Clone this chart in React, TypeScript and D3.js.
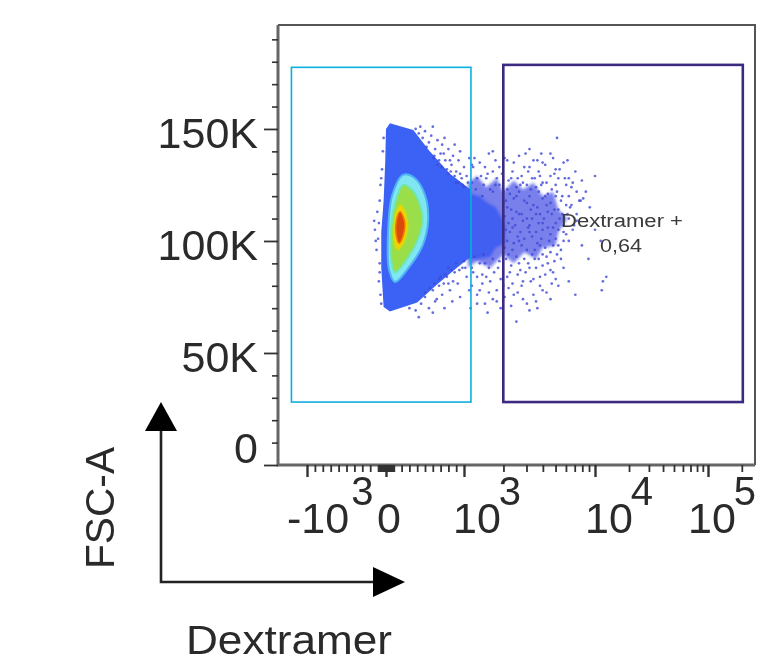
import React, { useEffect, useRef } from 'react';
import * as d3 from 'd3';

type Pt = [number, number];

// x values are in displayed biex units: 0 = 0, 1 = 10^3, 2 = 10^4, 3 = 10^5. y values are FSC-A in K.
const xMajorTicks = [-1000, 0, 1000, 10000, 100000];
const xMinorTicks = [
  -900, -800, -700, -600, -500, -400, -300, -200, -100,
  -90, -80, -70, -60, -50, -40, -30, -20, -10, 10, 20, 30, 40, 50, 60, 70, 80, 90,
  100, 200, 300, 400, 500, 600, 700, 800, 900,
  2000, 3000, 4000, 5000, 6000, 7000, 8000, 9000,
  20000, 30000, 40000, 50000, 60000, 70000, 80000, 90000, 200000,
];
const xTickBases = ['-10', '0', '10', '10', '10'];
const xTickExps = ['3', '', '3', '4', '5'];
const xTickLabelOffsets = [-20, -9, -11, -10, -20];
const xTickExpGaps = [2, 0, -2, -2, -2];
const yMajorTicks = [0, 50, 100, 150];
const yTickLabels = ['0', '50K', '100K', '150K'];
const yLabelShifts = [-2, 19, 19, 19];
const yMinorTicks = [10, 20, 30, 40, 60, 70, 80, 90, 110, 120, 130, 140, 160, 170, 180, 190];

const negativeGate = { x0: -1.197, x1: 1.053, y0: 28.1, y1: 177.5 };
const positiveGate = { x0: 1.3, x1: 3.31, y0: 28.1, y1: 178.6 };
const gateName = 'Dextramer +';
const gateValue = '0,64';

const mainBlue: Pt[] = [[0.0, 150], [0.05, 152.5], [0.15, 151.5], [0.35, 149.5], [0.56, 140], [0.82, 130], [1.05, 123], [1.05, 93], [0.91, 88], [0.65, 80.5], [0.4, 72.5], [0.05, 68.5], [-0.03, 70.5], [-0.06, 88], [-0.06, 104], [-0.03, 118], [-0.01, 135]];
const tailDense: Pt[] = [[1.0, 122], [1.12, 120], [1.18, 117], [1.24, 115], [1.31, 108], [1.31, 99], [1.24, 97], [1.2, 93], [1.1, 92], [1.0, 92]];
const tailCloud: Pt[] = [[1.03, 126], [1.1, 129], [1.17, 124], [1.25, 128], [1.3, 122], [1.38, 127], [1.45, 123], [1.53, 126], [1.6, 120], [1.68, 122], [1.72, 114], [1.79, 110], [1.72, 104], [1.7, 98], [1.6, 97], [1.55, 92], [1.46, 95], [1.38, 90], [1.3, 94], [1.2, 88], [1.1, 91], [1.03, 88]];
const cyanLevel: Pt[] = [[0.22, 129.5], [0.37, 128], [0.5, 120.5], [0.54, 109], [0.47, 98], [0.31, 89], [0.115, 81.7], [0.04, 87], [0.026, 103.6], [0.08, 120.5]];
const greenLevel: Pt[] = [[0.22, 125], [0.34, 122.5], [0.43, 116.5], [0.47, 109], [0.4, 100], [0.27, 92], [0.115, 86], [0.07, 91], [0.06, 103.6], [0.11, 116]];
const yellowLevel: Pt[] = [[0.19, 116], [0.26, 111.6], [0.28, 106], [0.24, 100], [0.15, 96], [0.1, 100], [0.1, 107], [0.13, 113]];
const redLevel: Pt[] = [[0.18, 113], [0.24, 108.5], [0.23, 103.6], [0.17, 99], [0.13, 102.7], [0.13, 108.5]];

const upperFringe: Pt[] = [[0.38, 150], [0.42, 148], [0.47, 146], [0.5, 149], [0.55, 144], [0.58, 147], [0.63, 141], [0.66, 145], [0.7, 139], [0.72, 143], [0.76, 136], [0.8, 141], [0.84, 134], [0.86, 138], [0.9, 131], [0.93, 136], [0.97, 128], [1.0, 133], [1.03, 126], [0.6, 151], [0.75, 146], [0.88, 143], [0.95, 140], [1.04, 137], [0.44, 151], [0.52, 142], [0.68, 136], [0.78, 132], [0.9, 126], [1.0, 124], [0.62, 138], [0.8, 130], [0.95, 130], [0.61, 137], [0.66, 134], [0.71, 133], [0.83, 131], [0.88, 129], [0.93, 126], [0.98, 125], [1.02, 129], [0.74, 139], [0.82, 136]];
const lowerFringe: Pt[] = [[0.45, 72], [0.5, 75], [0.55, 70], [0.6, 78], [0.63, 73], [0.68, 80], [0.72, 76], [0.75, 70], [0.78, 84], [0.82, 78], [0.85, 73], [0.88, 86], [0.92, 81], [0.95, 75], [0.98, 88], [1.02, 84], [1.04, 78], [1.05, 70], [0.3, 70], [0.38, 69], [0.42, 66], [0.6, 68], [0.7, 84], [0.8, 88], [0.9, 90], [1.0, 91], [0.65, 74], [0.74, 81], [0.5, 77], [0.56, 79], [0.62, 81], [0.68, 83], [0.76, 85], [0.84, 87], [0.94, 87], [1.01, 88], [0.86, 82], [0.8, 81]];
const leftFringe: Pt[] = [[-0.07, 76], [-0.09, 82], [-0.08, 90], [-0.12, 96], [-0.1, 101], [-0.14, 105], [-0.09, 108], [-0.11, 113], [-0.08, 118], [-0.07, 125], [-0.05, 132], [-0.04, 140], [-0.03, 146], [-0.06, 72], [-0.13, 100], [-0.15, 109], [-0.08, 86], [-0.06, 128]];
const tailUpper: Pt[] = [[1.07, 133], [1.1, 128], [1.12, 135], [1.15, 125], [1.18, 130], [1.2, 123], [1.22, 140], [1.25, 128], [1.27, 133], [1.3, 122], [1.33, 136], [1.34, 127], [1.37, 131], [1.4, 124], [1.42, 138], [1.44, 129], [1.46, 133], [1.48, 125], [1.5, 141], [1.52, 128], [1.53, 136], [1.55, 124], [1.57, 131], [1.59, 139], [1.6, 126], [1.62, 134], [1.64, 121], [1.66, 129], [1.68, 137], [1.7, 125], [1.71, 146], [1.73, 132], [1.75, 120], [1.77, 128], [1.79, 136], [1.82, 124], [1.85, 131], [1.88, 118], [1.9, 127], [1.93, 122], [1.96, 115], [2.0, 129]];
const tailUpperExtra: Pt[] = [[1.08, 137], [1.19, 139], [1.31, 137], [1.47, 139], [1.56, 136], [1.66, 139], [1.06, 134], [1.16, 133], [1.24, 136], [1.38, 135], [1.5, 133], [1.6, 135], [1.7, 132], [1.76, 135], [1.13, 129], [1.22, 131], [1.29, 130], [1.41, 128], [1.49, 131], [1.58, 129], [1.69, 130], [1.8, 128], [1.06, 126], [1.17, 128], [1.27, 125], [1.36, 128], [1.45, 126], [1.54, 128], [1.63, 126], [1.72, 128], [1.83, 126], [1.09, 123], [1.24, 125], [1.33, 123], [1.43, 125], [1.51, 123], [1.59, 125], [1.67, 123], [1.78, 125], [1.86, 122], [1.14, 120], [1.22, 122], [1.35, 121], [1.42, 122], [1.5, 120], [1.57, 122], [1.62, 120], [1.71, 122], [1.8, 120], [1.91, 119]];
const tailMiddle: Pt[] = [[1.32, 118], [1.36, 114], [1.4, 120], [1.44, 112], [1.48, 117], [1.52, 110], [1.56, 115], [1.6, 108], [1.64, 113], [1.68, 106], [1.72, 114], [1.76, 104], [1.8, 110], [1.84, 107], [1.78, 116], [1.7, 120], [1.35, 104], [1.42, 100], [1.5, 104], [1.58, 98], [1.65, 100], [1.72, 98], [1.74, 92], [1.8, 100], [1.86, 112]];
const tailMiddleExtra: Pt[] = [[1.3, 117], [1.38, 119], [1.46, 118], [1.53, 116], [1.6, 119], [1.66, 117], [1.74, 118], [1.82, 116], [1.89, 118], [1.33, 115], [1.4, 113], [1.51, 114], [1.58, 112], [1.63, 116], [1.69, 114], [1.75, 112], [1.81, 115], [1.31, 111], [1.37, 110], [1.42, 112], [1.48, 110], [1.55, 112], [1.61, 110], [1.67, 112], [1.73, 110], [1.79, 112], [1.86, 109], [1.34, 108], [1.39, 107], [1.45, 109], [1.5, 107], [1.57, 108], [1.64, 106], [1.7, 108], [1.76, 107], [1.83, 105], [1.32, 105], [1.37, 106], [1.43, 104], [1.49, 106], [1.55, 104], [1.6, 105], [1.66, 103], [1.72, 105], [1.78, 103], [1.41, 102], [1.46, 101], [1.52, 102], [1.59, 101], [1.7, 101], [1.76, 100], [1.33, 100], [1.38, 99], [1.44, 98], [1.56, 99], [1.62, 97], [1.68, 98], [1.74, 96], [1.31, 97], [1.37, 96], [1.48, 96], [1.54, 96], [1.6, 94], [1.66, 95], [1.71, 94]];
const tailLower: Pt[] = [[1.06, 88], [1.1, 84], [1.12, 78], [1.16, 90], [1.2, 82], [1.22, 74], [1.26, 88], [1.3, 80], [1.32, 92], [1.35, 86], [1.38, 76], [1.42, 90], [1.45, 82], [1.48, 72], [1.5, 88], [1.54, 92], [1.58, 84], [1.6, 78], [1.64, 90], [1.68, 86], [1.72, 80], [1.76, 88], [1.8, 82], [1.85, 76], [1.1, 72], [1.18, 68], [1.28, 70], [1.4, 64], [1.56, 70], [1.66, 74]];
const tailLowerExtra: Pt[] = [[1.08, 93], [1.15, 94], [1.22, 92], [1.34, 94], [1.4, 93], [1.46, 92], [1.52, 94], [1.57, 92], [1.63, 93], [1.69, 91], [1.12, 90], [1.19, 88], [1.27, 91], [1.36, 89], [1.43, 87], [1.49, 90], [1.55, 88], [1.6, 89], [1.66, 87], [1.07, 86], [1.14, 85], [1.23, 86], [1.33, 84], [1.41, 85], [1.47, 86], [1.53, 83], [1.62, 85], [1.7, 83], [1.17, 84], [1.28, 83], [1.37, 81], [1.44, 80], [1.51, 82], [1.58, 80], [1.67, 81], [1.06, 80], [1.14, 81], [1.25, 78], [1.34, 79], [1.41, 77], [1.53, 76], [1.63, 77], [1.1, 76], [1.19, 77], [1.31, 75], [1.45, 74], [1.55, 73], [1.16, 72], [1.25, 73], [1.36, 71], [1.5, 69]];
const outliers: Pt[] = [[2.07, 82], [2.1, 84], [2.06, 78], [1.95, 92], [1.9, 98], [2.0, 105], [2.05, 100]];

const FONT = '"Liberation Sans", Arial, sans-serif';
const INK = '#2a2a2a';

// FlowJo style axis: linear inside +-1000, log outside
const biex = (v: number) => (Math.abs(v) <= 1000 ? v / 1000 : Math.sign(v) * (Math.log10(Math.abs(v)) - 2));

const App = () => {
  const ref = useRef<SVGSVGElement>(null);

  useEffect(() => {
    const root = d3.select(ref.current);
    root.selectAll('*').remove();

    const defs = root.append('defs');
    defs.append('filter').attr('id', 'soft').append('feGaussianBlur').attr('stdDeviation', 0.6);
    defs.append('filter').attr('id', 'softer').append('feGaussianBlur').attr('stdDeviation', 1.6);

    const x = d3.scaleLinear()
      .domain([-1, 0, 1, 2, 3, biex(262144)])
      .range([307, 386, 464, 595, 708, 755]);
    const y = d3.scaleLinear().domain([0, 196.4]).range([465, 25]);
    // same positions, for the axes, which take raw intensities
    const xRaw: any = (v: number) => x(biex(v));
    xRaw.copy = () => xRaw;
    xRaw.range = () => [278, 755];
    xRaw.domain = () => [-1367, 262144];

    const smooth = d3.line<Pt>().x(d => x(d[0])).y(d => y(d[1])).curve(d3.curveCatmullRomClosed.alpha(0.5));
    const straight = d3.line<Pt>().x(d => x(d[0])).y(d => y(d[1])).curve(d3.curveLinearClosed);

    const plot = root.append('g').attr('filter', 'url(#soft)');
    const density = plot.append('g');
    const shape = (d: string | null, fill: string, stroke = 'none', sw = 0, blur = 'url(#soft)', opacity = 1) =>
      density.append('path').attr('d', d).attr('fill', fill).attr('stroke', stroke)
        .attr('stroke-width', sw).attr('filter', blur).attr('opacity', opacity);

    shape(straight(tailCloud), '#4450e4', 'none', 0, 'url(#softer)', 0.72);
    shape(straight(tailDense), '#3d5cf0', 'none', 0, 'url(#softer)', 0.95);
    shape(straight(mainBlue), '#3a62f4');

    const dots = [...upperFringe, ...lowerFringe, ...leftFringe, ...tailUpper, ...tailUpperExtra, ...tailMiddle, ...tailMiddleExtra, ...tailLower, ...tailLowerExtra, ...outliers];
    density.selectAll('circle').data(dots).enter().append('circle')
      .attr('cx', d => x(d[0])).attr('cy', d => y(d[1])).attr('r', 1.35)
      .attr('fill', '#3f48d4').attr('opacity', 0.8);

    shape(smooth(cyanLevel), '#7fe6f2', '#4fb2f6', 2);
    shape(smooth(greenLevel), '#9ade48', '#70e6b0', 2);
    shape(smooth(yellowLevel), '#f0d400', '#c8dc20', 1.5);
    shape(smooth(redLevel), '#dc4a0c', '#f07c00', 1.5);

    // gates
    plot.append('rect')
      .attr('x', x(negativeGate.x0)).attr('y', y(negativeGate.y1))
      .attr('width', x(negativeGate.x1) - x(negativeGate.x0)).attr('height', y(negativeGate.y0) - y(negativeGate.y1))
      .attr('fill', 'none').attr('stroke', '#0aaee0').attr('stroke-width', 1.6);
    plot.append('rect')
      .attr('x', x(positiveGate.x0)).attr('y', y(positiveGate.y1))
      .attr('width', x(positiveGate.x1) - x(positiveGate.x0)).attr('height', y(positiveGate.y0) - y(positiveGate.y1))
      .attr('fill', 'none').attr('stroke', '#3a2a80').attr('stroke-width', 2.6);

    plot.append('text').attr('x', 622).attr('y', 227).attr('text-anchor', 'middle')
      .attr('font-family', FONT).attr('font-size', 18).attr('fill', '#3a3a3a')
      .attr('textLength', 122).attr('lengthAdjust', 'spacingAndGlyphs').text(gateName);
    plot.append('text').attr('x', 621).attr('y', 252).attr('text-anchor', 'middle')
      .attr('font-family', FONT).attr('font-size', 18).attr('fill', '#3a3a3a')
      .attr('textLength', 42).attr('lengthAdjust', 'spacingAndGlyphs').text(gateValue);

    // frame, left and bottom edges are heavier
    plot.append('path').attr('d', 'M278,25H755V465').attr('fill', 'none').attr('stroke', '#555').attr('stroke-width', 2);
    plot.append('path').attr('d', 'M278,25V465H755').attr('fill', 'none').attr('stroke', '#666').attr('stroke-width', 3);

    // axes
    const tidy = (g: any, w: number) => {
      g.select('.domain').remove();
      g.selectAll('.tick line').attr('stroke', '#333').attr('stroke-width', w);
      g.selectAll('.tick text').remove();
    };
    plot.append('g').attr('transform', 'translate(278,0)')
      .call(d3.axisLeft(y).tickValues(yMinorTicks).tickSize(6)).call(tidy, 1.6);
    plot.append('g').attr('transform', 'translate(278,0)')
      .call(d3.axisLeft(y).tickValues(yMajorTicks).tickSize(14)).call(tidy, 1.8);
    plot.append('g').attr('transform', 'translate(0,465)')
      .call(d3.axisBottom(xRaw).tickValues(xMinorTicks).tickSize(7)).call(tidy, 1.8);
    plot.append('g').attr('transform', 'translate(0,465)')
      .call(d3.axisBottom(xRaw).tickValues(xMajorTicks).tickSize(12)).call(tidy, 2.4);

    const labels = root.append('g').attr('filter', 'url(#soft)').attr('font-family', FONT).attr('fill', INK);

    yMajorTicks.forEach((v, i) => {
      labels.append('text').attr('x', 258).attr('y', y(v) + yLabelShifts[i]).attr('text-anchor', 'end')
        .attr('font-size', 43).text(yTickLabels[i]);
    });

    xMajorTicks.forEach((v, i) => {
      const t = labels.append('text').attr('x', xRaw(v) + xTickLabelOffsets[i]).attr('y', 533).attr('font-size', 43);
      t.append('tspan').text(xTickBases[i]);
      if (xTickExps[i]) t.append('tspan').attr('dy', -28).attr('dx', xTickExpGaps[i]).attr('font-size', 40).text(xTickExps[i]);
    });

    // arrows
    const arrows = root.append('g').attr('filter', 'url(#soft)');
    arrows.append('path').attr('d', 'M161,431V582H375').attr('fill', 'none').attr('stroke', '#222').attr('stroke-width', 2.6);
    arrows.append('path').attr('d', 'M161,402L177,431H145Z').attr('fill', '#000');
    arrows.append('path').attr('d', 'M405,582L373,567V597Z').attr('fill', '#000');

    labels.append('text').attr('transform', 'translate(114,569) rotate(-90)')
      .attr('font-size', 40).attr('textLength', 122).attr('lengthAdjust', 'spacingAndGlyphs').text('FSC-A');
    labels.append('text').attr('x', 186).attr('y', 654)
      .attr('font-size', 40).attr('textLength', 206).attr('lengthAdjust', 'spacingAndGlyphs').text('Dextramer');
  }, []);

  return <svg ref={ref} width={763} height={658} style={{ position: 'absolute', left: 0, top: 0, background: '#fff' }} />;
};

export default App;
